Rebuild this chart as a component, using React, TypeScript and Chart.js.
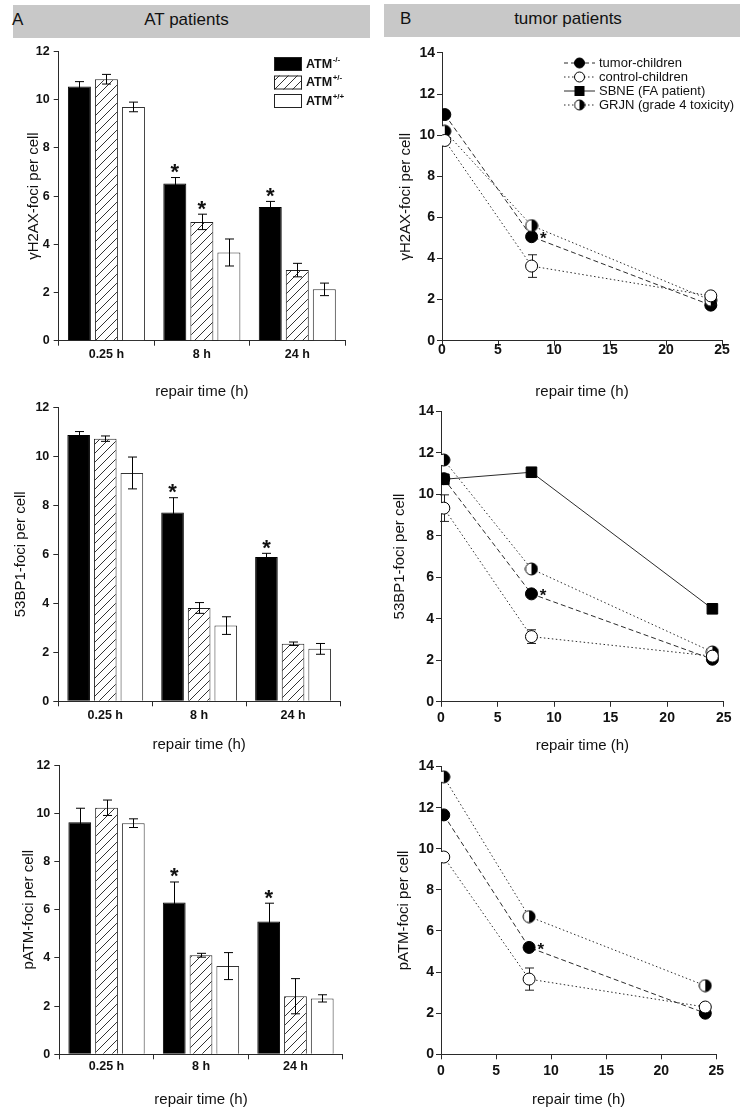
import React, { useEffect, useRef } from "react";
import { Chart, registerables } from "chart.js";

Chart.register(...registerables);

const FONT = "'Liberation Sans', Arial, Helvetica, sans-serif";
const INK = "#111111";
const AXIS = "#2a2a2a";
const LINE = "#2b2b2b";

// ---------- Panel A: AT patients (bar charts) ----------
const timeLabels = ["0.25 h", "8 h", "24 h"];
const genotypeSup = ["-/-", "+/-", "+/+"];

const h2axNull = [10.55, 6.52, 5.55];
const h2axNullErr = [0.2, 0.25, 0.23];
const h2axHet = [10.85, 4.93, 2.93];
const h2axHetErr = [0.2, 0.32, 0.28];
const h2axWt = [9.7, 3.66, 2.13];
const h2axWtErr = [0.2, 0.56, 0.26];
const h2axNullStar = [false, true, true];
const h2axHetStar = [false, true, false];
const h2axWtStar = [false, false, false];

const bp1Null = [10.87, 7.71, 5.89];
const bp1NullErr = [0.14, 0.6, 0.15];
const bp1Het = [10.72, 3.81, 2.35];
const bp1HetErr = [0.11, 0.22, 0.07];
const bp1Wt = [9.32, 3.09, 2.14];
const bp1WtErr = [0.65, 0.36, 0.22];
const bp1NullStar = [false, true, true];
const bp1HetStar = [false, false, false];
const bp1WtStar = [false, false, false];

const patmNull = [9.63, 6.3, 5.51];
const patmNullErr = [0.58, 0.85, 0.76];
const patmHet = [10.23, 4.11, 2.41];
const patmHetErr = [0.32, 0.08, 0.73];
const patmWt = [9.59, 3.66, 2.32];
const patmWtErr = [0.18, 0.56, 0.15];
const patmNullStar = [false, true, true];
const patmHetStar = [false, false, false];
const patmWtStar = [false, false, false];

// ---------- Panel B: tumor patients (line charts) ----------
const repairHours = [0.25, 8, 24];
const seriesNames = ["tumor-children", "control-children", "SBNE (FA patient)", "GRJN (grade 4 toxicity)"];

const h2axTumor = [11.0, 5.06, 1.73];
const h2axControl = [9.74, 3.63, 2.18];
const h2axControlErr = [0, 0.55, 0];
const h2axGrjn = [10.19, 5.6, 1.97];

const bp1Tumor = [10.75, 5.2, 2.05];
const bp1Control = [9.33, 3.14, 2.2];
const bp1ControlErr = [0.64, 0.33, 0];
const bp1Sbne = [10.72, 11.06, 4.48];
const bp1Grjn = [11.65, 6.4, 2.4];

const patmTumor = [11.65, 5.2, 2.0];
const patmControl = [9.6, 3.66, 2.3];
const patmControlErr = [0, 0.54, 0];
const patmGrjn = [13.5, 6.7, 3.34];

type Frame = {
  cx: number; cy: number; cw: number; ch: number;
  l: number; r: number; t: number; b: number;
  yTitleX: number; xTitleY: number;
  xTickPad: number; yTickPad: number; tickSize: number;
};

const aTop: Frame = { cx: 0, cy: 40, cw: 372, ch: 365, l: 58.7, r: 345, t: 51.2, b: 340.7, yTitleX: 33.5, xTitleY: 392, xTickPad: 1.8, yTickPad: 4, tickSize: 12.5 };
const aMid: Frame = { cx: 0, cy: 395, cw: 372, ch: 365, l: 58.3, r: 340, t: 407.3, b: 701.3, yTitleX: 20.5, xTitleY: 745, xTickPad: 1.5, yTickPad: 4, tickSize: 12.5 };
const aBot: Frame = { cx: 0, cy: 752, cw: 372, ch: 359, l: 59.3, r: 342.7, t: 765.1, b: 1054.3, yTitleX: 28.5, xTitleY: 1100, xTickPad: 0, yTickPad: 4, tickSize: 12.5 };
const bTop: Frame = { cx: 372, cy: 40, cw: 373, ch: 365, l: 442, r: 722, t: 52.9, b: 340.7, yTitleX: 405.8, xTitleY: 392, xTickPad: -4.1, yTickPad: 2, tickSize: 14 };
const bMid: Frame = { cx: 372, cy: 395, cw: 373, ch: 365, l: 441, r: 723.7, t: 411.2, b: 701.8, yTitleX: 399.5, xTitleY: 746, xTickPad: 3.1, yTickPad: 2, tickSize: 14 };
const bBot: Frame = { cx: 372, cy: 752, cw: 373, ch: 359, l: 441, r: 716.3, t: 766.6, b: 1054.3, yTitleX: 403.7, xTitleY: 1100, xTickPad: 3.9, yTickPad: 2, tickSize: 14 };

let hatchCache: CanvasPattern | null = null;
function hatch(): CanvasPattern {
  if (hatchCache) return hatchCache;
  const s = 9;
  const c = document.createElement("canvas");
  c.width = s; c.height = s;
  const g = c.getContext("2d")!;
  g.fillStyle = "#fff";
  g.fillRect(0, 0, s, s);
  g.strokeStyle = "#333";
  g.lineWidth = 1;
  g.beginPath();
  g.moveTo(0, s); g.lineTo(s, 0);
  g.moveTo(-2, 2); g.lineTo(2, -2);
  g.moveTo(s - 2, s + 2); g.lineTo(s + 2, s - 2);
  g.stroke();
  hatchCache = g.createPattern(c, "repeat")!;
  return hatchCache;
}

const halfCache: Record<string, HTMLCanvasElement> = {};
function halfDot(r: number): HTMLCanvasElement {
  const k = String(r);
  if (halfCache[k]) return halfCache[k];
  const s = Math.ceil(2 * r + 2);
  const c = document.createElement("canvas");
  c.width = s; c.height = s;
  const g = c.getContext("2d")!;
  const m = s / 2;
  g.beginPath(); g.arc(m, m, r, 0, Math.PI * 2); g.fillStyle = "#fff"; g.fill();
  g.beginPath(); g.moveTo(m, m - r); g.arc(m, m, r, -Math.PI / 2, Math.PI / 2); g.closePath(); g.fillStyle = "#000"; g.fill();
  g.beginPath(); g.arc(m, m, r, 0, Math.PI * 2); g.strokeStyle = "#000"; g.lineWidth = 1; g.stroke();
  halfCache[k] = c;
  return c;
}

function baseOptions(f: Frame, yTitle: string, yMax: number): any {
  const tickFont = { family: FONT, size: f.tickSize, weight: "bold" };
  const grid = { display: true, drawOnChartArea: false, drawTicks: true, tickLength: 5, color: AXIS, lineWidth: 1 };
  const border = { display: true, color: AXIS, width: 1 };
  return {
    responsive: false,
    maintainAspectRatio: false,
    animation: false,
    devicePixelRatio: 1,
    events: [],
    layout: { padding: { left: 0, top: f.t - f.cy, right: f.cx + f.cw - f.r, bottom: 0 } },
    plugins: { legend: { display: false }, tooltip: { enabled: false } },
    scales: {
      x: {
        grid, border,
        ticks: { color: INK, font: tickFont, padding: f.xTickPad, maxRotation: 0, autoSkip: false },
        title: { display: true, text: "repair time (h)", color: INK, font: { family: FONT, size: 15 }, padding: { top: 0, bottom: f.cy + f.ch - f.xTitleY - 9 } },
        afterFit: (s: any) => { s.height = f.cy + f.ch - f.b; },
      },
      y: {
        min: 0, max: yMax,
        grid, border,
        ticks: { stepSize: 2, color: INK, font: tickFont, padding: f.yTickPad },
        title: { display: true, text: yTitle, color: INK, font: { family: FONT, size: 15 }, padding: { top: f.yTitleX - f.cx - 9, bottom: 0 } },
        afterFit: (s: any) => { s.width = f.l - f.cx; },
      },
    },
  };
}

function barDecor(f: Frame, errs: number[][], stars: boolean[][], legend: boolean) {
  return {
    id: "barDecor",
    afterDatasetsDraw(chart: any) {
      const ctx = chart.ctx;
      const ys = chart.scales.y;
      ctx.save();
      ctx.strokeStyle = "#000";
      ctx.lineWidth = 1;
      chart.data.datasets.forEach((ds: any, di: number) => {
        const meta = chart.getDatasetMeta(di);
        meta.data.forEach((el: any, i: number) => {
          const v = ds.data[i];
          const e = errs[di][i];
          const x = Math.round(el.x) + 0.5;
          const yt = ys.getPixelForValue(v + e);
          const yb = ys.getPixelForValue(v - e);
          ctx.beginPath();
          ctx.moveTo(x, yb); ctx.lineTo(x, yt);
          ctx.moveTo(x - 4.5, yt); ctx.lineTo(x + 4.5, yt);
          ctx.moveTo(x - 4.5, yb); ctx.lineTo(x + 4.5, yb);
          ctx.stroke();
          if (stars[di][i]) {
            ctx.fillStyle = INK;
            ctx.font = `bold 22px ${FONT}`;
            ctx.textAlign = "center";
            ctx.textBaseline = "alphabetic";
            ctx.fillText("*", el.x, yt + 1.5);
          }
        });
      });
      ctx.restore();
    },
    afterDraw(chart: any) {
      if (!legend) return;
      const ctx = chart.ctx;
      const fills: any[] = ["#000", hatch(), "#fff"];
      const tops = [57, 75.5, 94];
      ctx.save();
      for (let i = 0; i < 3; i++) {
        const x = 274 - f.cx;
        const y = tops[i] - f.cy;
        ctx.fillStyle = fills[i];
        ctx.fillRect(x, y, 28, 14);
        ctx.strokeStyle = "#222";
        ctx.lineWidth = 1;
        ctx.strokeRect(x + 0.5, y + 0.5, 27, 13);
        const cy = y + 7;
        ctx.fillStyle = INK;
        ctx.textAlign = "left";
        ctx.textBaseline = "middle";
        ctx.font = `bold 12.5px ${FONT}`;
        ctx.fillText("ATM", 306 - f.cx, cy + 0.5);
        const w = ctx.measureText("ATM").width;
        ctx.font = `bold 8px ${FONT}`;
        ctx.fillText(genotypeSup[i], 306 - f.cx + w + 0.5, cy - 4.5);
      }
      ctx.restore();
    },
  };
}

function barConfig(f: Frame, yTitle: string, vals: number[][], errs: number[][], stars: boolean[][], legend: boolean) {
  const fills: any[] = ["#000", hatch(), "#fff"];
  const borders = ["#000", "#222", "#333"];
  return {
    type: "bar",
    data: {
      labels: timeLabels,
      datasets: vals.map((v, i) => ({
        label: "ATM" + genotypeSup[i],
        data: v,
        backgroundColor: fills[i],
        borderColor: borders[i],
        borderWidth: 1,
        categoryPercentage: 0.85,
        barPercentage: 0.85,
      })),
    },
    options: baseOptions(f, yTitle, 12),
    plugins: [barDecor(f, errs, stars, legend)],
  };
}

function drawMarker(ctx: CanvasRenderingContext2D, kind: string, x: number, y: number) {
  ctx.lineWidth = 1;
  ctx.strokeStyle = "#000";
  if (kind === "rect") {
    ctx.fillStyle = "#000";
    ctx.fillRect(x - 5, y - 5, 10, 10);
  } else if (kind === "half") {
    const img = halfDot(5);
    ctx.drawImage(img, x - img.width / 2, y - img.height / 2);
  } else {
    ctx.beginPath();
    ctx.arc(x, y, 5, 0, Math.PI * 2);
    ctx.fillStyle = kind === "filled" ? "#000" : "#fff";
    ctx.fill();
    ctx.stroke();
  }
}

function lineDecor(f: Frame, controlErr: number[], legend: boolean) {
  return {
    id: "lineDecor",
    beforeDatasetsDraw(chart: any) {
      const ctx = chart.ctx;
      const ys = chart.scales.y;
      const meta = chart.getDatasetMeta(0);
      const ds = chart.data.datasets[0];
      ctx.save();
      ctx.strokeStyle = "#222";
      ctx.lineWidth = 1;
      meta.data.forEach((el: any, i: number) => {
        const e = controlErr[i];
        if (!e) return;
        const v = ds.data[i].y;
        const x = Math.round(el.x) + 0.5;
        const yt = ys.getPixelForValue(v + e);
        const yb = ys.getPixelForValue(v - e);
        ctx.beginPath();
        ctx.moveTo(x, yb); ctx.lineTo(x, yt);
        ctx.moveTo(x - 4.5, yt); ctx.lineTo(x + 4.5, yt);
        ctx.moveTo(x - 4.5, yb); ctx.lineTo(x + 4.5, yb);
        ctx.stroke();
      });
      ctx.restore();
    },
    afterDatasetsDraw(chart: any) {
      const ctx = chart.ctx;
      const el = chart.getDatasetMeta(2).data[1];
      ctx.save();
      ctx.fillStyle = INK;
      ctx.font = `bold 17px ${FONT}`;
      ctx.textAlign = "center";
      ctx.textBaseline = "alphabetic";
      ctx.fillText("*", el.x + 11.7, el.y - 2.7 + 9.8);
      ctx.restore();
    },
    afterDraw(chart: any) {
      if (!legend) return;
      const ctx = chart.ctx;
      const rows = [63, 77, 91, 105];
      const kinds = ["filled", "open", "rect", "half"];
      const dashes = [[4, 3], [1.5, 2.5], [], [1.5, 2.5]];
      ctx.save();
      for (let i = 0; i < 4; i++) {
        const y = rows[i] - f.cy;
        const x0 = 564 - f.cx;
        const x1 = 595 - f.cx;
        const xm = 579.5 - f.cx;
        ctx.strokeStyle = LINE;
        ctx.lineWidth = 1;
        ctx.setLineDash(dashes[i]);
        ctx.beginPath();
        ctx.moveTo(x0, y); ctx.lineTo(x1, y);
        ctx.stroke();
        ctx.setLineDash([]);
        drawMarker(ctx, kinds[i], xm, y);
        ctx.fillStyle = INK;
        ctx.font = `13px ${FONT}`;
        ctx.textAlign = "left";
        ctx.textBaseline = "middle";
        ctx.fillText(seriesNames[i], 599 - f.cx, y + 0.5);
      }
      ctx.restore();
    },
  };
}

function lineConfig(
  f: Frame, yTitle: string,
  tumor: number[], control: number[], controlErr: number[], grjn: number[], sbne: number[] | null,
  legend: boolean
) {
  const opts = baseOptions(f, yTitle, 14);
  opts.scales.x = {
    ...opts.scales.x,
    type: "linear",
    min: 0,
    max: 25,
    ticks: { ...opts.scales.x.ticks, stepSize: 5 },
  };
  const pts = (arr: number[]) => arr.map((y, i) => ({ x: repairHours[i], y }));
  const common = { borderColor: LINE, borderWidth: 1, fill: false, tension: 0, pointBorderColor: "#000", pointBorderWidth: 1 };
  const datasets: any[] = [
    { ...common, label: seriesNames[1], data: pts(control), borderDash: [1.5, 2.5], pointStyle: "circle", pointRadius: 6, pointBackgroundColor: "#fff" },
    { ...common, label: seriesNames[3], data: pts(grjn), borderDash: [1.5, 2.5], pointStyle: halfDot(6), pointRadius: 6, pointBackgroundColor: "#000" },
    { ...common, label: seriesNames[0], data: pts(tumor), borderDash: [5, 3], pointStyle: "circle", pointRadius: 6, pointBackgroundColor: "#000" },
  ];
  if (sbne) {
    datasets.push({ ...common, label: seriesNames[2], data: pts(sbne), borderDash: [], pointStyle: "rect", pointRadius: 7.5, pointBackgroundColor: "#000" });
  }
  return {
    type: "line",
    data: { datasets },
    options: opts,
    plugins: [lineDecor(f, controlErr, legend)],
  };
}

function ChartCanvas({ frame, build }: { frame: Frame; build: () => any }) {
  const ref = useRef<HTMLCanvasElement>(null);
  useEffect(() => {
    const chart = new Chart(ref.current as HTMLCanvasElement, build());
    return () => chart.destroy();
  }, []);
  return (
    <canvas
      ref={ref}
      width={frame.cw}
      height={frame.ch}
      style={{ position: "absolute", left: frame.cx, top: frame.cy, width: frame.cw, height: frame.ch }}
    />
  );
}

const headerText: React.CSSProperties = {
  position: "absolute",
  fontFamily: FONT,
  fontSize: 17,
  color: INK,
  lineHeight: "20px",
  whiteSpace: "nowrap",
};

export default function App() {
  return (
    <div style={{ position: "absolute", left: 0, top: 0, width: 745, height: 1111, background: "#fff", overflow: "hidden" }}>
      <div style={{ position: "absolute", left: 13, top: 5, width: 357, height: 33, background: "#c8c8c8" }} />
      <div style={{ position: "absolute", left: 384, top: 4, width: 356, height: 33, background: "#c8c8c8" }} />
      <span style={{ ...headerText, left: 12, top: 10 }}>A</span>
      <span style={{ ...headerText, left: 186.5, top: 10, transform: "translateX(-50%)" }}>AT patients</span>
      <span style={{ ...headerText, left: 400, top: 9 }}>B</span>
      <span style={{ ...headerText, left: 568, top: 9, transform: "translateX(-50%)" }}>tumor patients</span>

      <ChartCanvas frame={aTop} build={() => barConfig(aTop, "γH2AX-foci per cell", [h2axNull, h2axHet, h2axWt], [h2axNullErr, h2axHetErr, h2axWtErr], [h2axNullStar, h2axHetStar, h2axWtStar], true)} />
      <ChartCanvas frame={aMid} build={() => barConfig(aMid, "53BP1-foci per cell", [bp1Null, bp1Het, bp1Wt], [bp1NullErr, bp1HetErr, bp1WtErr], [bp1NullStar, bp1HetStar, bp1WtStar], false)} />
      <ChartCanvas frame={aBot} build={() => barConfig(aBot, "pATM-foci per cell", [patmNull, patmHet, patmWt], [patmNullErr, patmHetErr, patmWtErr], [patmNullStar, patmHetStar, patmWtStar], false)} />

      <ChartCanvas frame={bTop} build={() => lineConfig(bTop, "γH2AX-foci per cell", h2axTumor, h2axControl, h2axControlErr, h2axGrjn, null, true)} />
      <ChartCanvas frame={bMid} build={() => lineConfig(bMid, "53BP1-foci per cell", bp1Tumor, bp1Control, bp1ControlErr, bp1Grjn, bp1Sbne, false)} />
      <ChartCanvas frame={bBot} build={() => lineConfig(bBot, "pATM-foci per cell", patmTumor, patmControl, patmControlErr, patmGrjn, null, false)} />
    </div>
  );
}
